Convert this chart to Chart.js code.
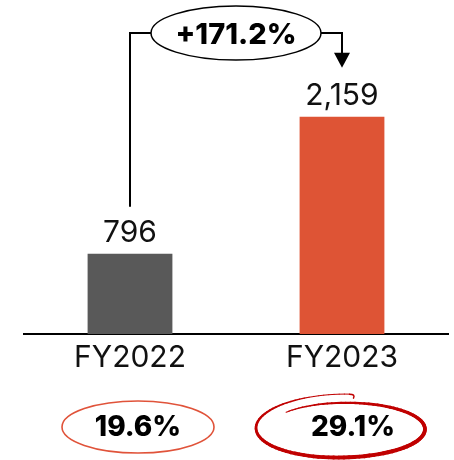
<!DOCTYPE html>
<html><head><meta charset="utf-8">
<script src="https://cdn.jsdelivr.net/npm/chart.js@4/dist/chart.umd.min.js"></script>
<style>html,body{margin:0;padding:0;background:#fff}#wrap{width:454px;height:460px;position:relative}</style>
</head><body><div id="wrap"><canvas id="c"></canvas></div>
<script>
// Revenue by fiscal year with growth bracket and margin badges
const categories = ['FY2022', 'FY2023'];
const revenue = [796, 2159];
const margins = ['19.6%', '29.1%'];
const growthLabel = '+171.2%';
const barColors = ['#595959', '#DE5435'];

const FONT = 'Inter, "DejaVu Sans", sans-serif';

function fmt(v) { return v.toLocaleString('en-US'); }

const annotate = {
  id: 'annotate',
  afterDatasetsDraw(chart) {
    const ctx = chart.ctx;
    const bars = chart.getDatasetMeta(0).data;
    ctx.save();

    // value labels above bars
    ctx.fillStyle = '#111';
    ctx.font = '400 30px ' + FONT;
    ctx.textAlign = 'center';
    ctx.textBaseline = 'alphabetic';
    bars.forEach((b, i) => ctx.fillText(fmt(revenue[i]), b.x, b.y - 12));

    // growth bracket
    const x0 = bars[0].x, x1 = bars[1].x;
    const yTop = 33, cx = (x0 + x1) / 2, rx = 85, ry = 27;
    ctx.strokeStyle = '#000';
    ctx.lineWidth = 2;
    ctx.beginPath();
    ctx.moveTo(x0, bars[0].y - 47);
    ctx.lineTo(x0, yTop);
    ctx.lineTo(cx - rx, yTop);
    ctx.moveTo(cx + rx, yTop);
    ctx.lineTo(x1, yTop);
    const tip = bars[1].y - 49;
    ctx.lineTo(x1, tip - 12);
    ctx.stroke();
    ctx.fillStyle = '#000';
    ctx.beginPath();
    ctx.moveTo(x1 - 8, tip - 15);
    ctx.lineTo(x1 + 8, tip - 15);
    ctx.lineTo(x1, tip);
    ctx.closePath();
    ctx.fill();

    ctx.lineWidth = 1.5;
    ctx.beginPath();
    ctx.ellipse(cx, yTop, rx, ry, 0, 0, Math.PI * 2);
    ctx.stroke();
    ctx.fillStyle = '#000';
    ctx.font = '800 29px ' + FONT;
    ctx.textBaseline = 'middle';
    ctx.fillText(growthLabel, cx, yTop + 2);

    // margin badges
    const yB = 427;
    const c0 = x0 + 8;
    ctx.strokeStyle = '#E0533A';
    ctx.lineWidth = 1.6;
    ctx.beginPath();
    ctx.ellipse(c0, yB, 76, 26, 0, 0, Math.PI * 2);
    ctx.stroke();
    ctx.fillStyle = '#000';
    ctx.font = '800 28px ' + FONT;
    ctx.fillText(margins[0], c0, yB + 1);

    // hand-drawn loop around the second badge
    const cxs = x1, cys = 428;
    const a0 = -139 * Math.PI / 180, a1 = 275 * Math.PI / 180;
    const n = 120;
    ctx.strokeStyle = '#C00000';
    ctx.lineCap = 'round';
    let prev = null;
    for (let k = 0; k <= n; k++) {
      const t = k / n;
      const a = a0 + (a1 - a0) * t;
      const rxx = 74 + 12 * Math.min(1, t * 2.2);
      const ryy = 24 + 10 * t;
      const p = { x: cxs + rxx * Math.cos(a), y: cys + ryy * Math.sin(a) };
      if (prev) {
        ctx.lineWidth = 1 + 3 * Math.sin(Math.PI * Math.min(1, t * 1.05));
        ctx.beginPath();
        ctx.moveTo(prev.x, prev.y);
        ctx.lineTo(p.x, p.y);
        ctx.stroke();
      }
      prev = p;
    }
    ctx.lineWidth = 1.5;
    ctx.beginPath();
    ctx.moveTo(prev.x, prev.y);
    ctx.quadraticCurveTo(prev.x + 6, prev.y, prev.x + 4, prev.y + 4);
    ctx.stroke();

    ctx.fillStyle = '#000';
    ctx.fillText(margins[1], x1 + 11, yB + 1);
    ctx.restore();
  }
};

new Chart(document.getElementById('c'), {
  type: 'bar',
  data: {
    labels: categories,
    datasets: [{ data: revenue, backgroundColor: barColors, barPercentage: 0.4, categoryPercentage: 1 }]
  },
  options: {
    responsive: true,
    maintainAspectRatio: false,
    animation: false,
    layout: { padding: { top: 32, left: 24, right: 6, bottom: 86 } },
    plugins: { legend: { display: false }, tooltip: { enabled: false } },
    scales: {
      x: {
        grid: { display: false },
        border: { display: true, color: '#000', width: 2 },
        ticks: { color: '#111', font: { family: FONT, size: 30, weight: '400' }, padding: -2 }
      },
      y: { display: false, min: 0, max: 3000 }
    }
  },
  plugins: [annotate]
});
</script>
</body></html>
